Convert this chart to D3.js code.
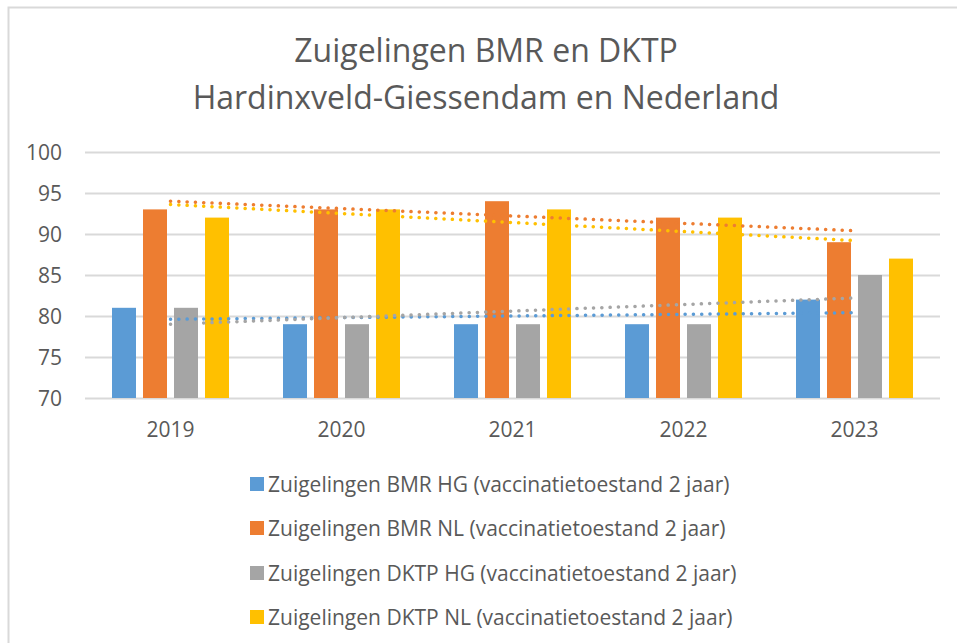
<!DOCTYPE html>
<html>
<head>
<meta charset="utf-8">
<script src="https://cdn.jsdelivr.net/npm/d3@7"></script>
<style>
  body { margin: 0; background: #fff; }
  text { font-family: "Open Sans", sans-serif; fill: #595959; }
</style>
</head>
<body>
<script>
// data
var years = ["2019", "2020", "2021", "2022", "2023"];
var seriesNames = [
  "Zuigelingen BMR HG (vaccinatietoestand 2 jaar)",
  "Zuigelingen BMR NL (vaccinatietoestand 2 jaar)",
  "Zuigelingen DKTP HG (vaccinatietoestand 2 jaar)",
  "Zuigelingen DKTP NL (vaccinatietoestand 2 jaar)"
];
var bmrHG  = [81, 79, 79, 79, 82];
var bmrNL  = [93, 93, 94, 92, 89];
var dktpHG = [81, 79, 79, 79, 85];
var dktpNL = [92, 93, 93, 92, 87];
var yTicks = [70, 75, 80, 85, 90, 95, 100];
var colors = ["#5B9BD5", "#ED7D31", "#A5A5A5", "#FFC000"];

var allValues = [bmrHG, bmrNL, dktpHG, dktpNL];

var width = 957, height = 643;

var svg = d3.select("body").append("svg")
    .attr("width", width)
    .attr("height", height);

// outer chart border (runs off the right and bottom of the picture)
svg.append("rect")
  .attr("x", 8.5)
  .attr("y", 7.5)
  .attr("width", 1000)
  .attr("height", 700)
  .attr("fill", "none")
  .attr("stroke", "#d9d9d9")
  .attr("stroke-width", 2);

//****************************** Title *****************************************
svg.append("text")
  .attr("x", 486).attr("y", 62)
  .attr("text-anchor", "middle")
  .attr("font-size", "32px")
  .text("Zuigelingen BMR en DKTP");
svg.append("text")
  .attr("x", 486).attr("y", 109)
  .attr("text-anchor", "middle")
  .attr("font-size", "32px")
  .text("Hardinxveld-Giessendam en Nederland");

//****************************** Scales ****************************************
var x = d3.scaleBand()
  .domain(years)
  .range([85, 940]);

var xInner = d3.scaleBand()
  .domain(d3.range(seriesNames.length))
  .range([-62, 62])
  .paddingInner(7 / 31)
  .paddingOuter(3.5 / 31);

var y = d3.scaleLinear()
  .domain([70, 100])
  .range([398, 152]);

//****************************** Grid + axes ***********************************
svg.append("g").selectAll("line")
  .data(yTicks)
  .enter().append("line")
    .attr("x1", 85).attr("x2", 940)
    .attr("y1", function(d){ return Math.round(y(d)) + 0.5; })
    .attr("y2", function(d){ return Math.round(y(d)) + 0.5; })
    .attr("stroke", "#d9d9d9")
    .attr("stroke-width", 2);

var yAxis = svg.append("g")
  .attr("transform", "translate(62,0)")
  .call(d3.axisLeft(y).tickValues(yTicks).tickSize(0).tickPadding(0));
yAxis.select(".domain").remove();
yAxis.selectAll("text")
  .attr("font-size", "21px")
  .attr("font-family", null)
  .attr("dy", "0.36em")
  .style("fill", "#595959");

var xAxis = svg.append("g")
  .attr("transform", "translate(0,398)")
  .call(d3.axisBottom(x).tickSize(0).tickPadding(0));
xAxis.select(".domain").remove();
xAxis.selectAll("text")
  .attr("font-size", "21px")
  .attr("font-family", null)
  .attr("y", 39)
  .attr("dy", 0)
  .style("fill", "#595959");

//****************************** Bars ******************************************
var groups = svg.append("g").selectAll("g")
  .data(allValues)
  .enter().append("g")
    .attr("fill", function(d,i){ return colors[i]; });

groups.each(function(vals, si) {
  d3.select(this).selectAll("rect")
    .data(vals)
    .enter().append("rect")
      .attr("x", function(d,i){ return x(years[i]) + x.bandwidth()/2 + xInner(si); })
      .attr("width", xInner.bandwidth())
      .attr("y", function(d){ return y(d); })
      .attr("height", function(d){ return y(70) - y(d); });
});

//****************************** Trendlines ************************************
// linear least squares fit through each series (Excel style trendline)
function trend(vals) {
  var n = vals.length;
  var mx = d3.mean(vals, function(d,i){ return i; });
  var my = d3.mean(vals);
  var num = d3.sum(vals, function(d,i){ return (i - mx) * (d - my); });
  var den = d3.sum(vals, function(d,i){ return (i - mx) * (i - mx); });
  var slope = num / den;
  return [0, n - 1].map(function(i){ return [i, my + slope * (i - mx)]; });
}

var line = d3.line()
  .x(function(d){ return x(years[d[0]]) + x.bandwidth()/2; })
  .y(function(d){ return y(d[1]); });

svg.append("g").selectAll("path")
  .data(allValues)
  .enter().append("path")
    .attr("d", function(d){ return line(trend(d)); })
    .attr("fill", "none")
    .attr("stroke", function(d,i){ return colors[i]; })
    .attr("stroke-width", 3.5)
    .attr("stroke-linecap", "round")
    .attr("stroke-dasharray", "0.1 8.2");

//****************************** Legend ****************************************
var legendY = [484, 528, 573, 617];
var legend = svg.append("g").selectAll("g")
  .data(seriesNames)
  .enter().append("g")
    .attr("transform", function(d,i){ return "translate(250," + legendY[i] + ")"; });

legend.append("rect")
  .attr("x", 0).attr("y", -7)
  .attr("width", 14).attr("height", 14)
  .attr("fill", function(d,i){ return colors[i]; });

legend.append("text")
  .attr("x", 18)
  .attr("y", 0)
  .attr("dy", "0.36em")
  .attr("font-size", "21px")
  .text(function(d){ return d; });
</script>
</body>
</html>
